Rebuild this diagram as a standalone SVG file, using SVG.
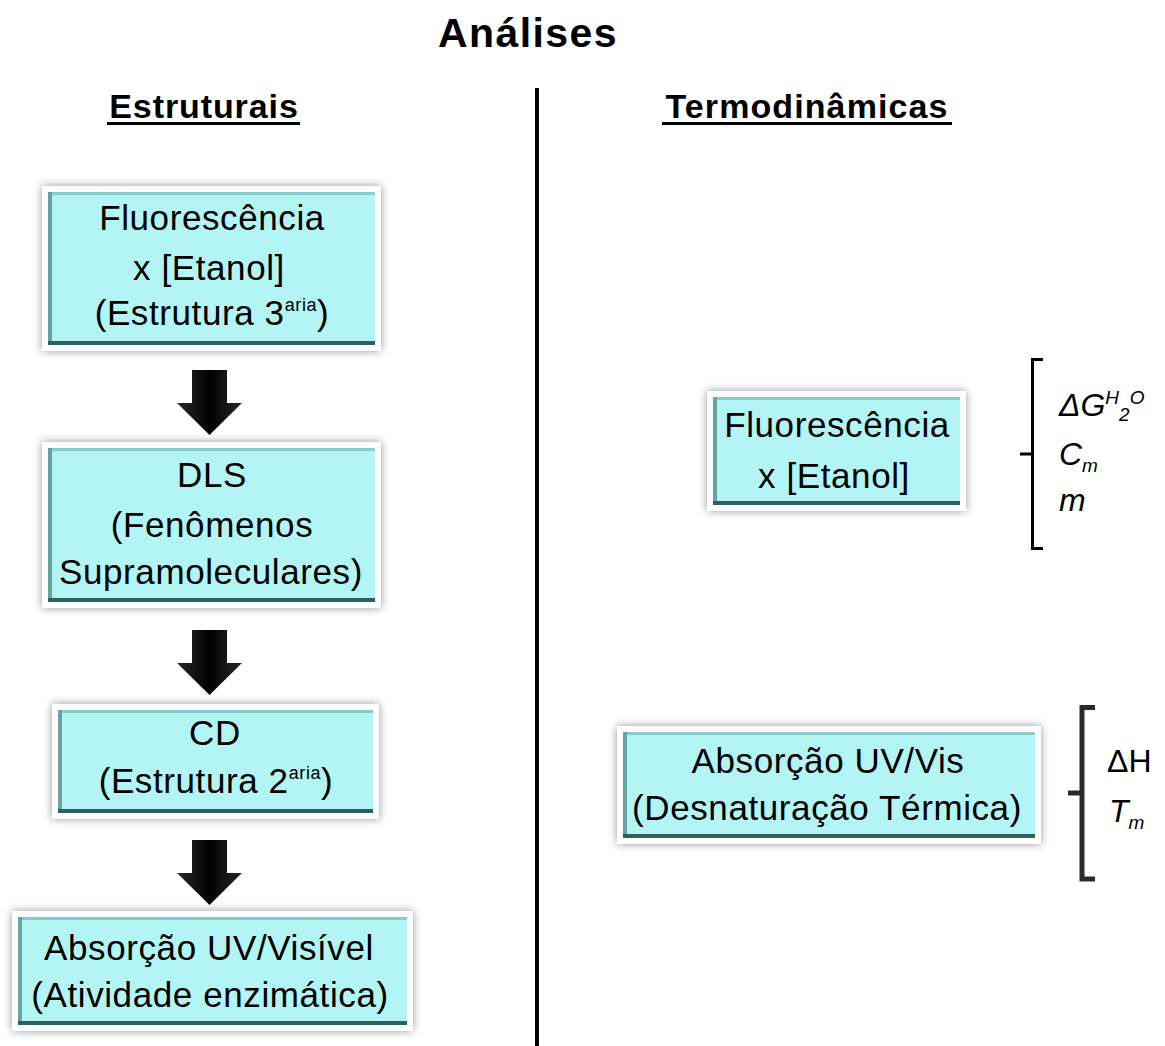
<svg xmlns="http://www.w3.org/2000/svg" width="1165" height="1046" viewBox="0 0 1165 1046">
<style>
.t{font-family:"Liberation Sans",Arial,sans-serif;font-size:35px;fill:#000;text-anchor:middle;letter-spacing:0.6px}
.h{font-family:"Liberation Sans",Arial,sans-serif;font-weight:bold;fill:#000;text-anchor:middle}
.m{font-family:"Liberation Sans",Arial,sans-serif;font-size:32px;fill:#000}
.i{font-style:italic}
.box{fill:#b3f4f4}
.halo{fill:#fff;filter:url(#sh)}
.lt{stroke:#8ccaca;stroke-width:3}
.dk{stroke:#2f6060;stroke-width:4}
.ml{stroke:#66a4a4;stroke-width:4}
.br{fill:none;stroke:#000;stroke-width:3}
</style>
<defs>
<filter id="sh" x="-10%" y="-20%" width="120%" height="140%">
<feDropShadow dx="0" dy="0" stdDeviation="4" flood-color="#7a7a7a" flood-opacity="0.8"/>
</filter>
<linearGradient id="ag" x1="0" y1="0" x2="1" y2="0">
<stop offset="0" stop-color="#2a2a2a"/>
<stop offset="0.5" stop-color="#000"/>
<stop offset="1" stop-color="#2a2a2a"/>
</linearGradient>
<symbol id="arrow" overflow="visible">
<path d="M15,0 H50 V33 H65 L32.5,65 L0,33 H15 Z" fill="url(#ag)"/>
</symbol>
</defs>
<rect width="1165" height="1046" fill="#fff"/>

<g id="title">
<text class="h" x="528" y="47" font-size="41" letter-spacing="1.4">Análises</text>
</g>
<g id="heading-estruturais">
<text class="h" x="204" y="118" font-size="34" letter-spacing="0.9">Estruturais</text>
<rect x="107" y="122" width="193" height="3"/>
</g>
<g id="heading-termodinamicas">
<text class="h" x="807" y="118" font-size="34" letter-spacing="1.1">Termodinâmicas</text>
<rect x="662" y="122" width="290" height="3"/>
</g>
<g id="divider">
<rect x="535" y="88" width="4" height="958" fill="#000"/>
</g>

<g id="node-fluor3">
<rect class="halo" x="42" y="186" width="339" height="165"/>
<rect class="box" x="48" y="192" width="327" height="153"/>
<line class="lt" x1="48" y1="193.5" x2="375" y2="193.5"/>
<line class="ml" x1="50" y1="192" x2="50" y2="345"/>
<line class="dk" x1="48" y1="343" x2="375" y2="343"/>
<text class="t" x="212" y="230">Fluorescência</text>
<text class="t" x="209" y="280">x [Etanol]</text>
<text class="t" x="212" y="325">(Estrutura 3<tspan font-size="18" dy="-14">aria</tspan><tspan dy="14">)</tspan></text>
</g>

<g id="node-dls">
<rect class="halo" x="42" y="442" width="339" height="166"/>
<rect class="box" x="48" y="448" width="327" height="154"/>
<line class="lt" x1="48" y1="449.5" x2="375" y2="449.5"/>
<line class="ml" x1="50" y1="448" x2="50" y2="602"/>
<line class="dk" x1="48" y1="600" x2="375" y2="600"/>
<text class="t" x="212" y="487">DLS</text>
<text class="t" x="212" y="537">(Fenômenos</text>
<text class="t" x="211" y="584">Supramoleculares)</text>
</g>

<g id="node-cd">
<rect class="halo" x="52" y="704" width="327" height="115"/>
<rect class="box" x="58" y="710" width="315" height="103"/>
<line class="lt" x1="58" y1="711.5" x2="373" y2="711.5"/>
<line class="ml" x1="60" y1="710" x2="60" y2="813"/>
<line class="dk" x1="58" y1="811" x2="373" y2="811"/>
<text class="t" x="215" y="745">CD</text>
<text class="t" x="216" y="793">(Estrutura 2<tspan font-size="18" dy="-14">aria</tspan><tspan dy="14">)</tspan></text>
</g>

<g id="node-absorcao-visivel">
<rect class="halo" x="12" y="911" width="401" height="120"/>
<rect class="box" x="18" y="917" width="389" height="108"/>
<line class="lt" x1="18" y1="918.5" x2="407" y2="918.5"/>
<line class="ml" x1="20" y1="917" x2="20" y2="1025"/>
<line class="dk" x1="18" y1="1023" x2="407" y2="1023"/>
<text class="t" x="209" y="960">Absorção UV/Visível</text>
<text class="t" x="210" y="1007">(Atividade enzimática)</text>
</g>

<g id="node-fluor-termo">
<rect class="halo" x="707" y="391" width="259" height="120"/>
<rect class="box" x="713" y="397" width="247" height="108"/>
<line class="lt" x1="713" y1="398.5" x2="960" y2="398.5"/>
<line class="ml" x1="715" y1="397" x2="715" y2="505"/>
<line class="dk" x1="713" y1="503" x2="960" y2="503"/>
<text class="t" x="837" y="437">Fluorescência</text>
<text class="t" x="834" y="488">x [Etanol]</text>
</g>

<g id="node-absorcao-termo">
<rect class="halo" x="617" y="726" width="424" height="118"/>
<rect class="box" x="623" y="732" width="412" height="106"/>
<line class="lt" x1="623" y1="733.5" x2="1035" y2="733.5"/>
<line class="ml" x1="625" y1="732" x2="625" y2="838"/>
<line class="dk" x1="623" y1="836" x2="1035" y2="836"/>
<text class="t" x="828" y="773">Absorção UV/Vis</text>
<text class="t" x="827" y="820">(Desnaturação Térmica)</text>
</g>

<g id="connectors">
<use href="#arrow" x="177" y="370"/>
<use href="#arrow" x="177" y="630"/>
<use href="#arrow" x="177" y="840"/>
</g>

<g id="bracket-fluor">
<path class="br" d="M1043,359.5 H1032.5 V548.5 H1043 M1032.5,454 H1020"/>
<text class="m i" x="1059" y="416">ΔG<tspan font-size="19" dy="-12">H</tspan><tspan font-size="19" dy="17">2</tspan><tspan font-size="19" dy="-17">O</tspan></text>
<text class="m i" x="1059" y="465">C<tspan font-size="19" dy="7">m</tspan></text>
<text class="m i" x="1059" y="511">m</text>
</g>

<g id="bracket-absorcao">
<path d="M1095,707.5 H1082 V879 H1095 M1082,793 H1068" fill="none" stroke="#2a2a2a" stroke-width="5"/>
<text class="m" x="1107" y="772">ΔH</text>
<text class="m" x="1109" y="822"><tspan class="i">T</tspan><tspan class="i" font-size="19" dy="7">m</tspan></text>
</g>
</svg>
